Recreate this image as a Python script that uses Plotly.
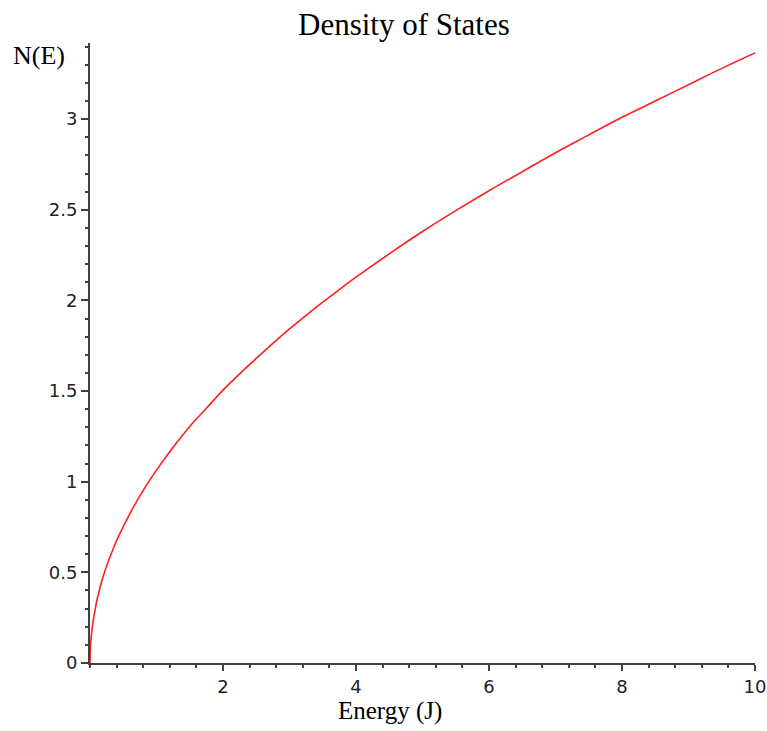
import plotly.graph_objects as go

# Values
energy = [0, 0.005, 0.01, 0.02, 0.04, 0.06, 0.08, 0.1, 0.13, 0.16, 0.2, 0.25, 0.3,
          0.35, 0.4, 0.5, 0.6, 0.7, 0.8, 0.9, 1.0, 1.25, 1.5, 1.75, 2.0, 2.25, 2.5,
          2.75, 3.0, 3.25, 3.5, 3.75, 4.0, 4.5, 5.0, 5.5, 6.0, 6.5, 7.0, 7.5, 8.0,
          8.5, 9.0, 9.5, 10.0]
density = [0, 0.075, 0.11, 0.15, 0.21, 0.26, 0.30, 0.34, 0.385, 0.43, 0.48, 0.535, 0.585,
           0.63, 0.675, 0.752, 0.824, 0.89, 0.952, 1.01, 1.064, 1.19, 1.305, 1.405, 1.505,
           1.595, 1.68, 1.763, 1.843, 1.918, 1.99, 2.06, 2.128, 2.257, 2.38, 2.495, 2.605,
           2.71, 2.815, 2.913, 3.01, 3.10, 3.19, 3.28, 3.365]

x_ticks = [2, 4, 6, 8, 10]
y_ticks = [0, 0.5, 1, 1.5, 2, 2.5, 3]
y_tick_labels = ["0", "0.5", "1", "1.5", "2", "2.5", "3"]

W, H = 767, 731
l, r, t, b = 90, 12, 43, 68
pw, ph = W - l - r, H - t - b

fig = go.Figure()
fig.add_trace(go.Scatter(x=energy, y=density, mode="lines",
                         line=dict(color="#ff2020", width=1.6, shape="spline", smoothing=1.0),
                         hoverinfo="skip", cliponaxis=False))

axis_color = "#404040"
tick_font = dict(family="DejaVu Sans, Liberation Sans, sans-serif", size=18, color="#222222")

fig.update_layout(
    width=W, height=H,
    margin=dict(l=l, r=r, t=t, b=b, autoexpand=False),
    paper_bgcolor="white", plot_bgcolor="white",
    showlegend=False,
    xaxis=dict(range=[0, 10], showgrid=False, zeroline=False, automargin=False,
               showline=True, linecolor=axis_color, linewidth=2,
               tickvals=x_ticks, ticktext=[str(v) for v in x_ticks],
               ticks="outside", ticklen=6, tickwidth=1.5, tickcolor=axis_color,
               ticklabeloverflow="allow",
               minor=dict(dtick=0.4, tick0=0, ticks="outside", ticklen=3, tickwidth=1.5, tickcolor=axis_color),
               tickfont=tick_font),
    yaxis=dict(range=[0, 3.42], showgrid=False, zeroline=False, automargin=False,
               showline=True, linecolor=axis_color, linewidth=2,
               tickvals=y_ticks, ticktext=y_tick_labels,
               ticks="outside", ticklen=7, tickwidth=1.5, tickcolor=axis_color,
               ticklabeloverflow="allow",
               minor=dict(dtick=0.1, tick0=0, ticks="outside", ticklen=3, tickwidth=1.5, tickcolor=axis_color),
               tickfont=tick_font),
)

texts = [("Density of States", 404, 25, 31), ("N(E)", 39, 55, 26), ("Energy (J)", 390, 711, 25)]
ann = []
for txt, px, py, s in texts:
    ann.append(dict(text=txt, xref="paper", yref="paper",
                    x=(px - l) / pw, y=(H - b - py) / ph,
                    xanchor="center", yanchor="middle", showarrow=False,
                    font=dict(family="Liberation Serif, Times New Roman, serif", size=s, color="black")))
fig.update_layout(annotations=ann)

fig.write_html("out.html", config={"displayModeBar": False},
               post_script="document.body.style.margin='0';document.body.style.overflow='hidden';")
